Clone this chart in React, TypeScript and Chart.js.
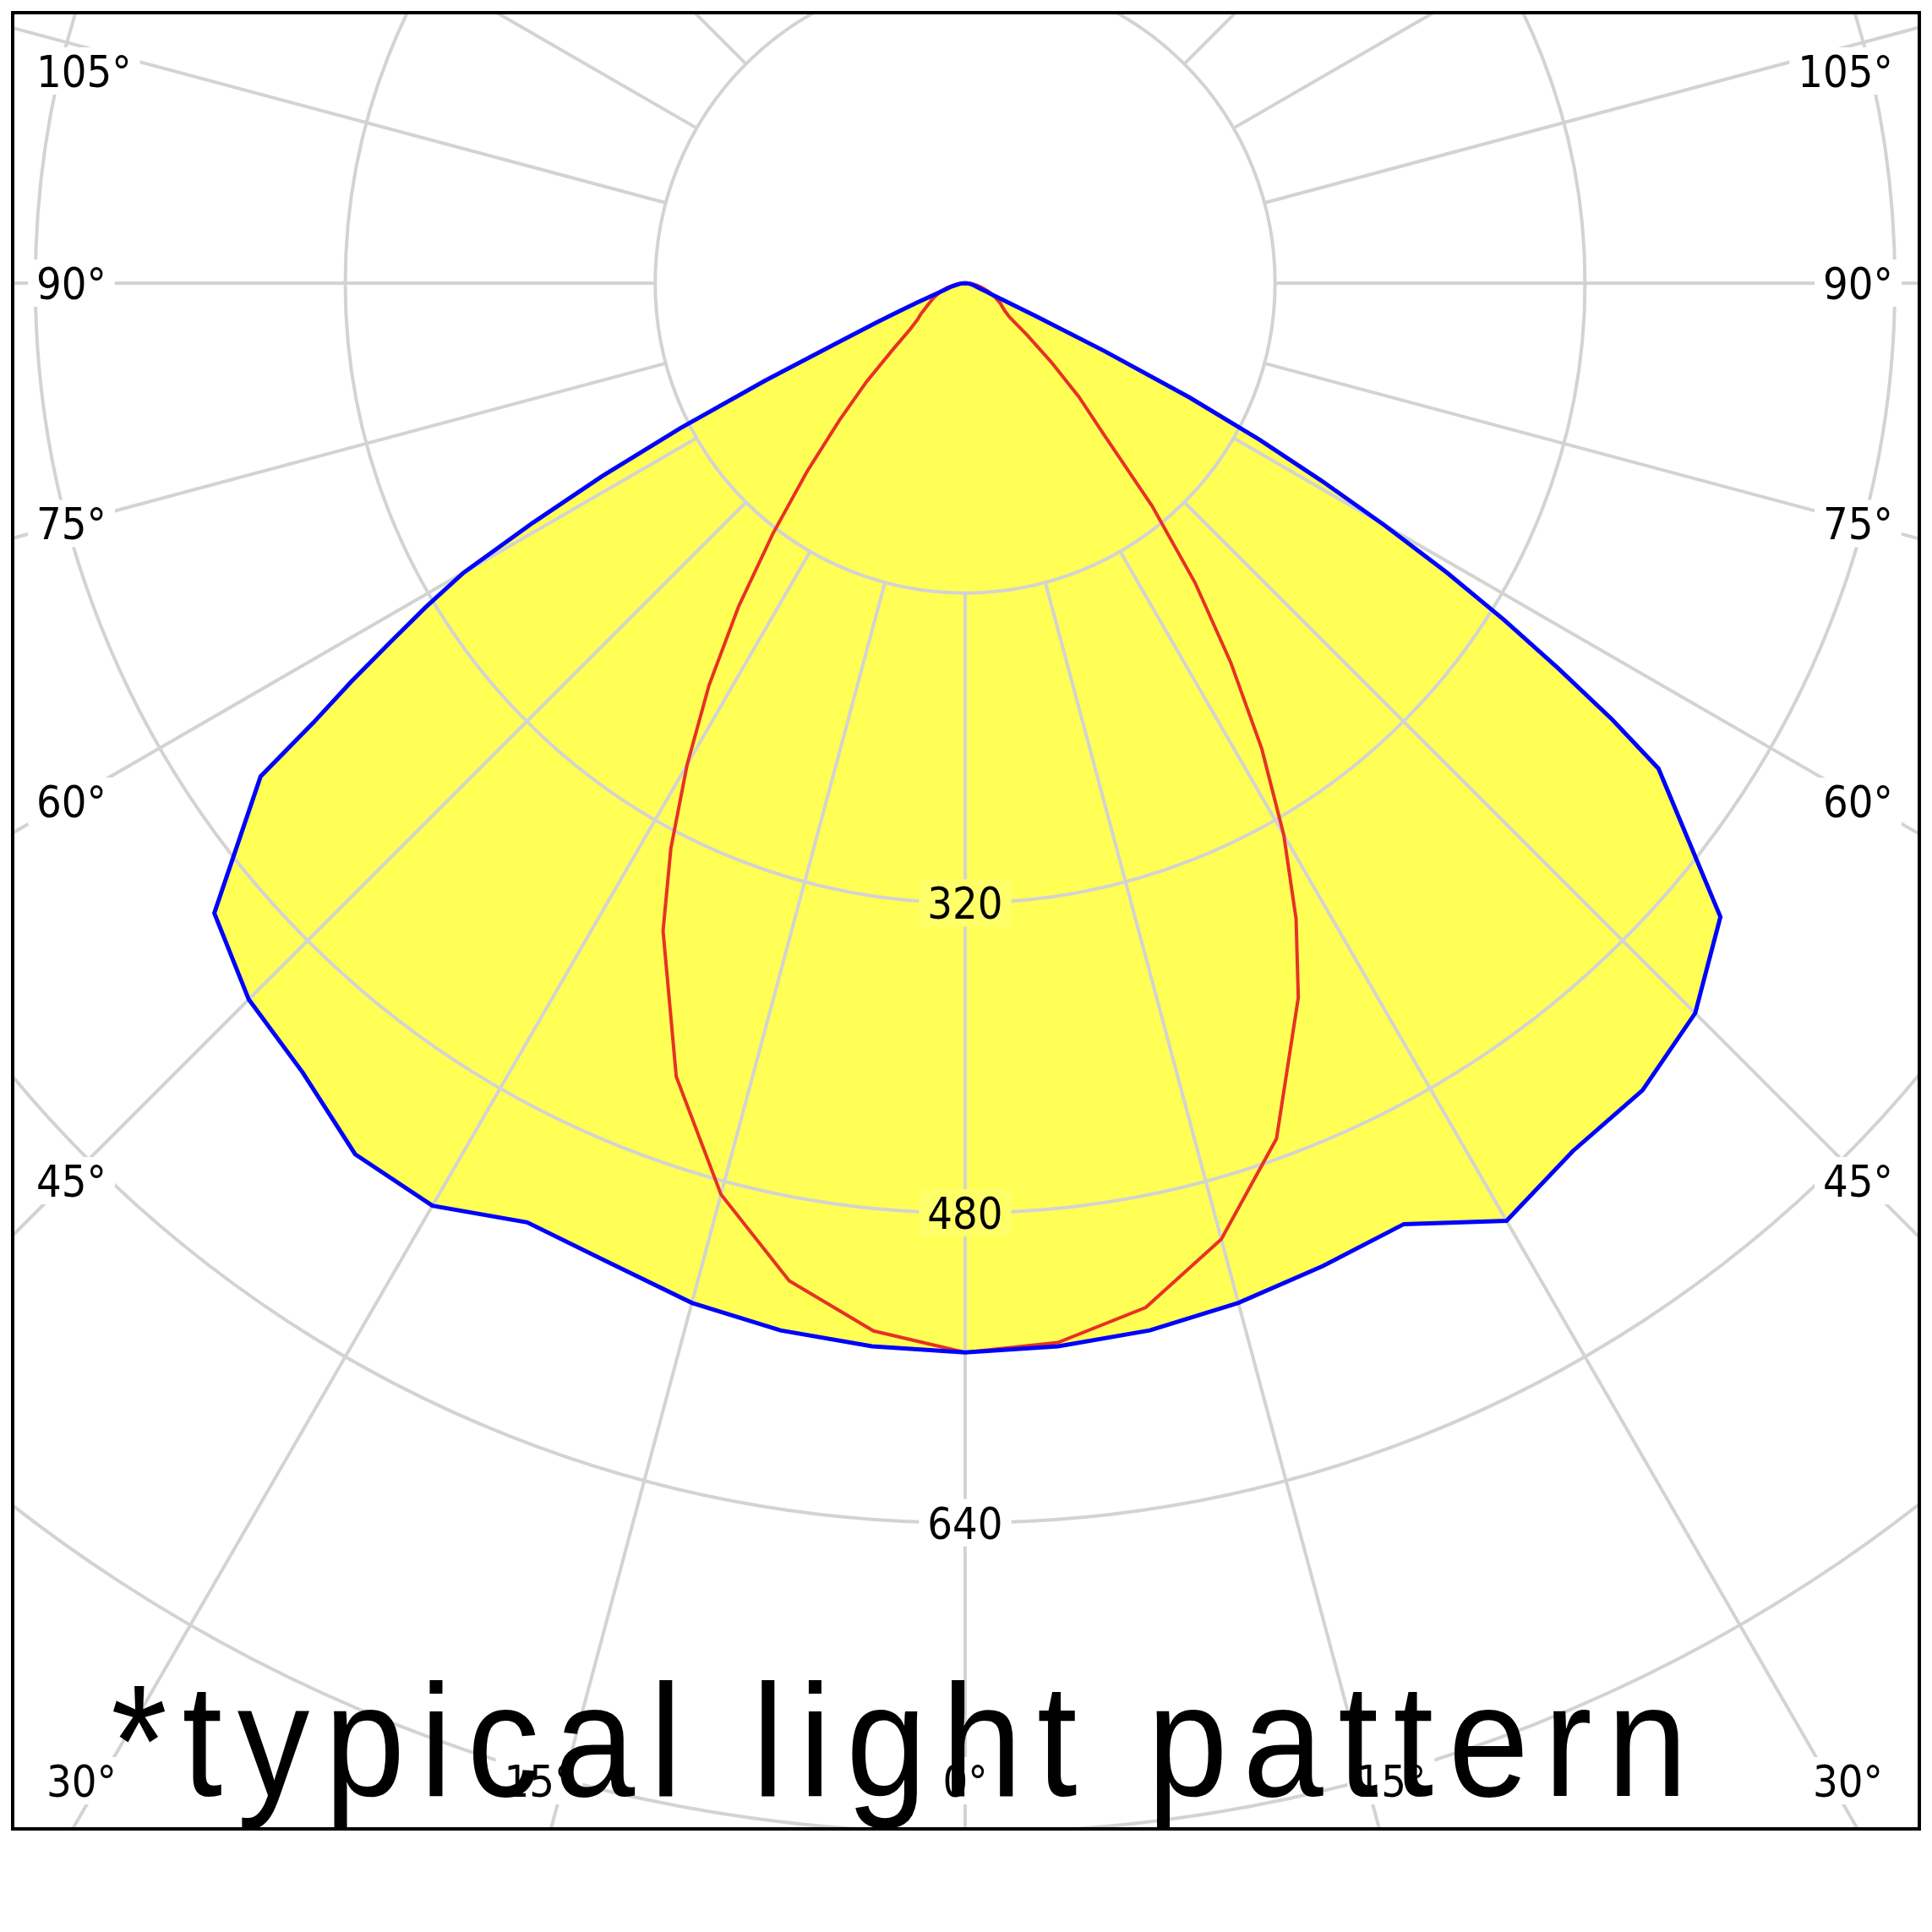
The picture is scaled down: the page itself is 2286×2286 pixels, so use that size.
import React, { useEffect, useRef } from 'react';
import { Chart, registerables } from 'chart.js';

Chart.register(...registerables);

// Vertical angles (gamma, degrees from nadir) and luminous intensity values (cd)
const blueAngles = [0, 5, 10, 15, 20, 25, 30, 35, 40, 45, 50, 55, 56, 57, 58, 59, 60, 61, 62, 63, 64, 65, 66, 67, 68, 70, 75, 80, 85, 90];
// C0 plane (right half of the blue curve)
const c0Values = [552, 551, 549, 545, 540, 536, 559, 547, 544, 533, 509, 437, 403, 365, 328, 290, 250, 210, 172, 130, 80, 40, 22, 15, 12, 8, 5, 3, 1, 0];
// C180 plane (left half of the blue curve)
const c180Values = [552, 551, 549, 545, 538, 535, 550, 549, 532, 523, 506, 444, 406, 378, 350, 325, 299, 255, 212, 165, 115, 72, 50, 36, 27, 15, 8, 4, 2, 0];

const redAngles = [0, 5, 10, 15, 20, 25, 27.5, 30, 32.5, 35, 37.5, 40, 42.5, 45, 47.5, 50, 52.5, 55, 60, 65, 70, 75, 80, 85, 90];
// C90 plane (right half of the red curve)
const c90Values = [552, 549, 537, 511, 470, 407, 370, 329, 285, 239, 195, 150, 106, 83, 60, 42, 29, 25, 21, 17, 13, 9, 6, 3, 0];
// C270 plane (left half of the red curve)
const c270Values = [552, 543, 523, 487, 436, 369, 329, 287, 246, 204, 163, 127, 96, 72, 50, 37, 31, 28, 22, 18, 14, 10, 6, 3, 0];

// Polar grid
const ringValues = [160, 320, 480, 640, 800, 960];
const ringLabelValues = [320, 480, 640];
const angleTicks = [0, 15, 30, 45, 60, 75, 90, 105, 120, 135, 150, 165, 180];

// Axis ranges (cd)
const xRange = [-491.7, 492.6];
const yRange = [-798, 139.6];

const noteText = '*typical light pattern';

const rad = (a: number) => (a * Math.PI) / 180;
const toXY = (angles: number[], vals: number[], side: number) =>
  angles.map((a, i) => ({ x: side * vals[i] * Math.sin(rad(a)), y: -vals[i] * Math.cos(rad(a)) }));

const LABEL_FONT = '52px "DejaVu Sans Condensed", "DejaVu Sans", sans-serif';

const polarGrid = {
  id: 'polarGrid',
  beforeDatasetsDraw(chart: any) {
    const { ctx, chartArea } = chart;
    const xs = chart.scales.x;
    const ys = chart.scales.y;
    const cx = xs.getPixelForValue(0);
    const cy = ys.getPixelForValue(0);
    const k = xs.getPixelForValue(1) - cx;
    const { left, right, top, bottom } = chartArea;

    ctx.save();
    ctx.font = LABEL_FONT;
    const digitH = 52 * 0.729;
    type Lbl = { text: string; x: number; yc: number; align: string; w: number };
    const labels: Lbl[] = [];

    for (const v of ringLabelValues) {
      const t = String(v);
      labels.push({ text: t, x: cx, yc: cy + v * k, align: 'center', w: ctx.measureText(t).width });
    }

    const sideInset = 65;
    const bottomExt = 52;
    const yMin = top + 69;
    const yMax = bottom - 57;
    for (const a of angleTicks) {
      const s = Math.sin(rad(a));
      const c = Math.cos(rad(a));
      const sides = a === 0 || a === 180 ? [1] : [-1, 1];
      for (const side of sides) {
        const text = `${a}°`;
        const w = ctx.measureText(text).width;
        const sideX = side < 0 ? left + sideInset : right - sideInset - 2;
        const tSide = s > 1e-6 ? Math.abs(sideX - cx) / s : Infinity;
        const tBottom = c > 1e-6 ? (bottom + bottomExt - cy) / c : Infinity;
        if (tSide <= tBottom) {
          const yv = cy + tSide * c;
          if (yv < top) continue;
          const yc = Math.min(Math.max(yv, yMin), yMax);
          const shift = yv > yMax ? 12 : 0;
          if (side < 0) labels.push({ text, x: left + 28 + shift, yc, align: 'left', w });
          else labels.push({ text, x: right - 31 - shift, yc, align: 'right', w });
        } else {
          const xv = cx + side * tBottom * s;
          labels.push({ text, x: xv, yc: yMax, align: 'center', w });
        }
      }
    }

    const boxOf = (l: Lbl) => {
      const x0 = l.align === 'left' ? l.x : l.align === 'right' ? l.x - l.w : l.x - l.w / 2;
      return { x: x0 - 10, y: l.yc - 28, w: l.w + 20, h: 56 };
    };

    // grid lines, knocked out behind the labels
    ctx.beginPath();
    ctx.rect(left, top, right - left, bottom - top);
    for (const l of labels) {
      const b = boxOf(l);
      ctx.rect(b.x, b.y, b.w, b.h);
    }
    ctx.clip('evenodd');
    ctx.strokeStyle = '#d3d3d3';
    ctx.lineWidth = 4;
    for (const v of ringValues) {
      ctx.beginPath();
      ctx.arc(cx, cy, v * k, 0, Math.PI * 2);
      ctx.stroke();
    }
    const rIn = ringValues[0] * k;
    const rOut = Math.hypot(right - left, bottom - top);
    for (let a = 0; a < 360; a += 15) {
      const s = Math.sin(rad(a));
      const c = Math.cos(rad(a));
      ctx.beginPath();
      ctx.moveTo(cx + s * rIn, cy + c * rIn);
      ctx.lineTo(cx + s * rOut, cy + c * rOut);
      ctx.stroke();
    }
    ctx.restore();

    ctx.save();
    ctx.font = LABEL_FONT;
    ctx.textBaseline = 'alphabetic';
    for (const l of labels) {
      const b = boxOf(l);
      ctx.fillStyle = 'rgba(255,255,255,0.12)';
      ctx.fillRect(b.x, b.y, b.w, b.h);
      ctx.fillStyle = '#000';
      ctx.textAlign = l.align;
      ctx.fillText(l.text, l.x, l.yc + digitH / 2);
    }
    ctx.restore();
  },
  afterDraw(chart: any) {
    const { ctx, chartArea } = chart;
    const { left, right, top, bottom } = chartArea;
    ctx.save();
    ctx.strokeStyle = '#000';
    ctx.lineWidth = 4;
    ctx.strokeRect(left, top, right - left, bottom - top);

    ctx.beginPath();
    ctx.rect(left, top, right - left, bottom - top);
    ctx.clip();
    ctx.font = '190px "Liberation Sans", Arial, sans-serif';
    ctx.fillStyle = '#000';
    ctx.textAlign = 'left';
    ctx.textBaseline = 'alphabetic';
    (ctx as any).letterSpacing = '0px';
    const m0 = ctx.measureText(noteText);
    const ink0 = m0.actualBoundingBoxLeft + m0.actualBoundingBoxRight;
    const sx = 0.9;
    const inkLeft = left + 119;
    const inkTarget = 1852;
    const spacing = (inkTarget / sx - ink0) / (noteText.length - 1);
    ctx.translate(inkLeft, bottom - 39);
    ctx.scale(sx, 1);
    (ctx as any).letterSpacing = `${spacing}px`;
    ctx.fillText(noteText, m0.actualBoundingBoxLeft, 0);
    ctx.restore();
  },
};

export default function App() {
  const ref = useRef<HTMLCanvasElement>(null);
  useEffect(() => {
    const blueData = [...toXY(blueAngles, c180Values, -1).reverse(), ...toXY(blueAngles, c0Values, 1).slice(1)];
    const redData = [...toXY(redAngles, c270Values, -1).reverse(), ...toXY(redAngles, c90Values, 1).slice(1)];
    const chart = new Chart(ref.current as HTMLCanvasElement, {
      type: 'scatter',
      data: {
        datasets: [
          {
            label: 'C0 - C180',
            data: blueData,
            showLine: true,
            borderColor: '#0000ff',
            borderWidth: 5,
            backgroundColor: '#ffff55',
            fill: 'shape',
            pointRadius: 0,
            tension: 0,
            order: 0,
          } as any,
          {
            label: 'C90 - C270',
            data: redData,
            showLine: true,
            borderColor: '#e63224',
            borderWidth: 4,
            fill: false,
            pointRadius: 0,
            tension: 0,
            order: 1,
          } as any,
        ],
      },
      options: {
        responsive: false,
        animation: false,
        devicePixelRatio: 1,
        layout: { padding: { left: 15, right: 15, top: 15, bottom: 122 } },
        scales: {
          x: { type: 'linear', min: xRange[0], max: xRange[1], display: false },
          y: { type: 'linear', min: yRange[0], max: yRange[1], display: false },
        },
        plugins: {
          legend: { display: false },
          tooltip: { enabled: false },
          filler: { drawTime: 'beforeDatasetsDraw' },
        } as any,
      },
      plugins: [polarGrid as any],
    });
    return () => chart.destroy();
  }, []);
  return (
    <div style={{ position: 'absolute', left: 0, top: 0, width: 2286, height: 2286, background: '#fff' }}>
      <canvas ref={ref} width={2286} height={2286} style={{ display: 'block', width: 2286, height: 2286 }} />
    </div>
  );
}
